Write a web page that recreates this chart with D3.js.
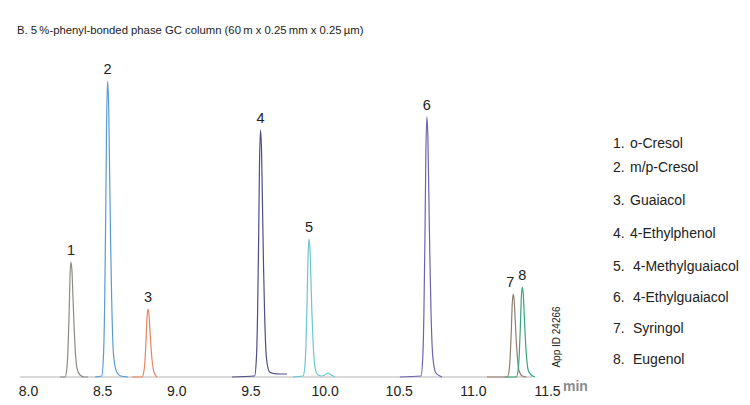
<!DOCTYPE html>
<html>
<head>
<meta charset="utf-8">
<script src="https://cdn.jsdelivr.net/npm/d3@7"></script>
<style>
  html, body { margin: 0; padding: 0; background: #fff; }
  svg { display: block; font-family: "Liberation Sans", Arial, Helvetica, sans-serif; }
</style>
</head>
<body>
<div id="chart"></div>
<script>
// Chromatogram B - 5%-phenyl column, 8 phenols
const title = 'B. 5\u2009%-phenyl-bonded phase GC column (60\u2009m x 0.25\u2009mm x 0.25\u2009\u00b5m)';

const peakIds = ['1', '2', '3', '4', '5', '6', '7', '8'];
const compounds = ['o-Cresol', 'm/p-Cresol', 'Guaiacol', '4-Ethylphenol',
  '4-Methylguaiacol', '4-Ethylguaiacol', 'Syringol', 'Eugenol'];
const retentionTimes = [8.290, 8.537, 8.809, 9.568, 9.895, 10.690, 11.272, 11.333];
const peakHeights = [115, 296, 68, 247, 138, 260, 83, 90];
const traceColors = ['#8c8c84', '#5b9bd0', '#e8845e', '#4d4f86', '#6cc5cf', '#6e63ad', '#8f7f6e', '#3aa57a'];

const xTicks = [8.0, 8.5, 9.0, 9.5, 10.0, 10.5, 11.0, 11.5];
const baselineRange = [7.946, 11.399];

// one trace per peak: [time (min), signal]
const traces = [
  [[8.216, 0], [8.250, 0], [8.263, 10], [8.270, 29], [8.277, 62], [8.283, 99], [8.290, 115],
   [8.297, 105], [8.303, 81], [8.310, 53], [8.317, 31], [8.330, 9], [8.351, 2], [8.378, 0], [8.405, 0]],
  [[8.452, 0], [8.497, 1], [8.510, 25], [8.517, 74], [8.524, 160], [8.530, 254], [8.537, 296],
   [8.544, 271], [8.550, 209], [8.557, 136], [8.564, 80], [8.577, 22], [8.598, 5], [8.625, 1], [8.674, 0]],
  [[8.701, 0], [8.769, 0], [8.782, 6], [8.789, 17], [8.796, 37], [8.802, 58], [8.809, 68],
   [8.816, 62], [8.822, 48], [8.829, 31], [8.836, 18], [8.849, 5], [8.870, 0]],
  [[9.376, 0], [9.528, 1], [9.541, 21], [9.548, 62], [9.555, 133], [9.561, 212], [9.568, 247],
   [9.575, 226], [9.581, 175], [9.588, 114], [9.595, 67], [9.608, 19], [9.629, 5], [9.656, 3.5],
   [9.700, 3], [9.747, 3]],
  [[9.787, 0], [9.855, 1], [9.868, 12], [9.875, 35], [9.882, 75], [9.888, 118], [9.895, 138],
   [9.902, 127], [9.908, 98], [9.915, 63], [9.922, 37], [9.935, 10], [9.956, 2], [9.983, 1],
   [10.000, 2], [10.023, 4], [10.045, 2], [10.070, 0]],
  [[10.508, 0], [10.650, 1], [10.663, 22], [10.670, 65], [10.677, 140], [10.683, 223], [10.690, 260],
   [10.697, 238], [10.703, 184], [10.710, 120], [10.717, 70], [10.730, 20], [10.751, 4], [10.778, 1], [10.792, 0]],
  [[11.095, 0], [11.232, 0], [11.245, 7], [11.252, 21], [11.259, 45], [11.265, 71], [11.272, 83],
   [11.279, 76], [11.285, 59], [11.292, 38], [11.299, 22], [11.312, 6], [11.333, 1], [11.360, 0]],
  [[11.216, 0], [11.293, 0], [11.306, 8], [11.313, 23], [11.320, 49], [11.326, 77], [11.333, 90],
   [11.340, 83], [11.346, 64], [11.353, 41], [11.360, 24], [11.373, 7], [11.394, 2], [11.419, 0]]
];

const width = 750, height = 405;

const svg = d3.select('#chart').append('svg')
  .attr('width', width)
  .attr('height', height);

const x = d3.scaleLinear().domain([8.0, 11.5]).range([28, 547]);
const y = d3.scaleLinear().domain([0, 300]).range([377, 77]);

// title
svg.append('text')
  .attr('x', 17)
  .attr('y', 34)
  .attr('font-size', 11.3)
  .attr('fill', '#222')
  .text(title);

// baseline
svg.append('line')
  .attr('x1', x(baselineRange[0]))
  .attr('x2', x(baselineRange[1]))
  .attr('y1', y(0))
  .attr('y2', y(0))
  .attr('stroke', '#b4b4b4')
  .attr('stroke-width', 1);

// x axis: labels only, no ticks or domain
const xAxis = d3.axisBottom(x)
  .tickValues(xTicks)
  .tickFormat(d3.format('.1f'))
  .tickSize(0)
  .tickPadding(9);

const axisG = svg.append('g')
  .attr('transform', `translate(0,${y(0)})`)
  .call(xAxis);
axisG.select('.domain').remove();
axisG.selectAll('text')
  .attr('font-size', 14)
  .attr('font-family', '"Liberation Sans", Arial, sans-serif')
  .attr('fill', '#222');

svg.append('text')
  .attr('x', x(11.5) + 16)
  .attr('y', 391)
  .attr('font-size', 14)
  .attr('font-weight', 'bold')
  .attr('fill', '#8a8a8a')
  .text('min');

// traces
const line = d3.line()
  .x(d => x(d[0]))
  .y(d => y(d[1]))
  .curve(d3.curveMonotoneX);

svg.append('g')
  .selectAll('path')
  .data(traces)
  .enter()
  .append('path')
  .attr('d', line)
  .attr('fill', 'none')
  .attr('stroke', (d, i) => traceColors[i])
  .attr('stroke-width', 1.2);

// peak numbers above apex (7 sits slightly left to clear 8)
svg.append('g')
  .selectAll('text')
  .data(peakIds)
  .enter()
  .append('text')
  .attr('x', (d, i) => x(retentionTimes[i]) + (d === '7' ? -3 : 0))
  .attr('y', (d, i) => y(peakHeights[i]) - 7)
  .attr('text-anchor', 'middle')
  .attr('font-size', 14.5)
  .attr('fill', '#222')
  .text(d => d);

// legend
const legendTop = 143;
const rowOffsets = [0, 24, 57, 90, 123, 154, 185, 216];
const legend = svg.append('g').attr('font-size', 14).attr('fill', '#222');

legend.selectAll('text.num')
  .data(peakIds)
  .enter()
  .append('text')
  .attr('class', 'num')
  .attr('x', 613)
  .attr('y', (d, i) => legendTop + rowOffsets[i] + 5)
  .text(d => d + '.');

legend.selectAll('text.name')
  .data(compounds)
  .enter()
  .append('text')
  .attr('class', 'name')
  .attr('x', (d, i) => i >= 4 ? 633 : 630)
  .attr('y', (d, i) => legendTop + rowOffsets[i] + 5)
  .text(d => d);

// application id, rotated
svg.append('text')
  .attr('transform', 'translate(560,337) rotate(-90)')
  .attr('text-anchor', 'middle')
  .attr('font-size', 10)
  .attr('fill', '#222')
  .text('App ID 24266');
</script>
</body>
</html>
